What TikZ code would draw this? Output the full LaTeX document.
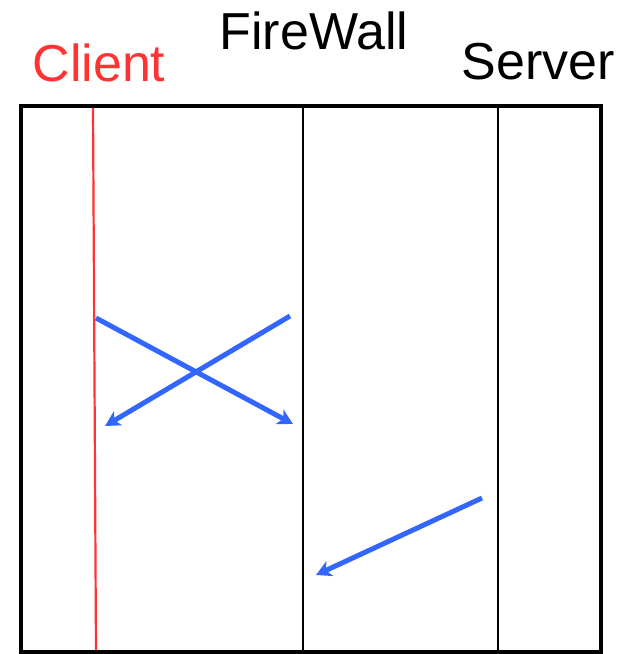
\documentclass[tikz,border=0pt]{standalone}
\usepackage{fontspec}
\setmainfont{Liberation Sans}
\usetikzlibrary{arrows.meta}
\definecolor{msgblue}{HTML}{3366FF}
\definecolor{clientred}{HTML}{FF3333}
\begin{document}
\begin{tikzpicture}[x=1pt,y=-1pt,
  lane/.style={line width=2.2pt,black},
  frame/.style={line width=4.5pt,black},
  msg/.style={line width=5pt,msgblue,-{Stealth[length=15pt,width=16pt,inset=4pt]}},
  title/.style={font=\fontsize{52}{60}\selectfont,anchor=base,inner sep=0pt}]
\useasboundingbox (0,0) rectangle (633,654);
% labels
\node[title,text=clientred] (client) at (99,81) {Client};
\node[title] (fw) at (314,49) {FireWall};
\node[title] (server) at (538,79) {Server};
% lanes
\coordinate (ct) at (93,107);
\coordinate (cb) at (96,652);
\draw[line width=2.2pt,clientred] (ct) -- (cb);
\coordinate (ft) at (303,107);
\coordinate (fb) at (303,652);
\draw[lane] (ft) -- (fb);
\coordinate (st) at (498,107);
\coordinate (sb) at (498,652);
\draw[lane] (st) -- (sb);
% outer frame
\draw[frame] (21,106) rectangle (601,652);
% messages
\coordinate (a1) at (96,318);
\coordinate (a2) at (293,424);
\coordinate (b1) at (290,316);
\coordinate (b2) at (105,426);
\coordinate (c1) at (482,498);
\coordinate (c2) at (316,575);
\draw[msg] (a1) -- (a2);
\draw[msg] (b1) -- (b2);
\draw[msg] (c1) -- (c2);
\end{tikzpicture}
\end{document}
